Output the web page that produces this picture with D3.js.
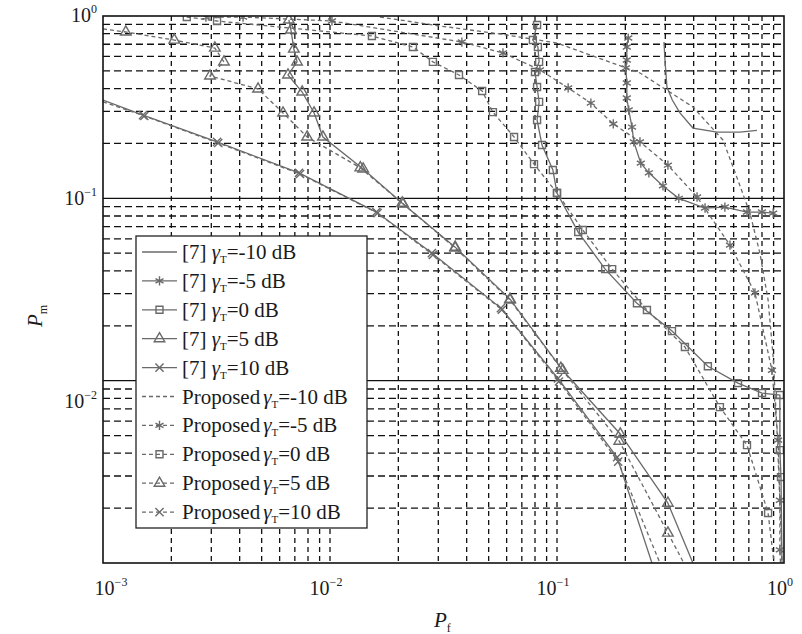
<!doctype html>
<meta charset="utf-8">
<style>
body { margin: 0; background: #fff; }
svg text { font-family: "Liberation Serif", "DejaVu Serif", serif; fill: #1a1a1a; }
</style>
<script src="https://d3js.org/d3.v7.min.js"></script>
<body>
<svg id="chart" width="802" height="634"></svg>
<script>
// ---- data (Pf, Pm) ----
var pfRefM10 = [0.296, 0.299, 0.305, 0.322, 0.348, 0.397, 0.507, 0.640, 0.760];
var pmRefM10 = [0.720, 0.574, 0.408, 0.346, 0.294, 0.243, 0.231, 0.231, 0.236];

var pfRefM5 = [0.206, 0.203, 0.203, 0.201, 0.203, 0.203, 0.207, 0.214, 0.218, 0.234, 0.254, 0.293, 0.344, 0.449, 0.549, 0.687, 0.800, 0.896];
var pmRefM5 = [0.757, 0.676, 0.574, 0.519, 0.429, 0.355, 0.305, 0.246, 0.204, 0.156, 0.138, 0.117, 0.100, 0.0885, 0.0896, 0.0841, 0.0841, 0.083];

var pfRef0 = [0.0817, 0.0783, 0.0824, 0.0834, 0.0800, 0.0817, 0.0834, 0.0817, 0.0859, 0.0959, 0.100, 0.124, 0.163, 0.225, 0.321, 0.462, 0.627, 0.800, 0.959, 0.959, 0.970, 0.980];
var pmRef0 = [0.893, 0.738, 0.676, 0.560, 0.493, 0.408, 0.338, 0.269, 0.196, 0.143, 0.107, 0.0653, 0.0409, 0.0266, 0.0187, 0.0120, 0.0097, 0.00855, 0.00834, 0.00416, 0.00296, 0.001];

var pfRef5 = [0.00659, 0.00673, 0.00693, 0.00716, 0.00653, 0.00754, 0.00851, 0.00931, 0.0140, 0.0210, 0.0356, 0.0621, 0.106, 0.190, 0.308, 0.397];
var pmRef5 = [0.951, 0.838, 0.659, 0.560, 0.475, 0.383, 0.294, 0.217, 0.145, 0.093, 0.054, 0.0280, 0.0114, 0.0051, 0.00213, 0.001];

var pfRef10 = [0.001, 0.00150, 0.00318, 0.00730, 0.0160, 0.0281, 0.0566, 0.101, 0.184, 0.262];
var pmRef10 = [0.346, 0.286, 0.204, 0.138, 0.0841, 0.0501, 0.0250, 0.0103, 0.0038, 0.001];

var pfPropM10 = [0.0166, 0.0306, 0.0561, 0.100, 0.232, 0.397, 0.538, 0.596, 0.708, 0.783, 0.851, 0.896, 0.931, 0.959, 0.980];
var pmPropM10 = [0.987, 0.881, 0.797, 0.711, 0.487, 0.317, 0.209, 0.149, 0.083, 0.0501, 0.0277, 0.0135, 0.00536, 0.00221, 0.001];

var pfPropM5 = [0.00284, 0.00414, 0.0102, 0.0381, 0.0578, 0.0841, 0.112, 0.141, 0.177, 0.232, 0.308, 0.414, 0.578, 0.745, 0.885, 0.942, 0.959, 0.959, 0.965];
var pmPropM5 = [0.987, 0.987, 0.939, 0.720, 0.627, 0.506, 0.403, 0.333, 0.256, 0.204, 0.152, 0.1017, 0.0554, 0.0303, 0.0114, 0.00472, 0.00221, 0.00118, 0.001];

var pfProp0 = [0.00234, 0.00318, 0.0153, 0.0232, 0.0284, 0.0370, 0.0468, 0.0522, 0.0647, 0.0792, 0.100, 0.130, 0.175, 0.249, 0.366, 0.522, 0.687, 0.851, 0.904];
var pmProp0 = [0.987, 0.939, 0.777, 0.676, 0.560, 0.475, 0.388, 0.297, 0.217, 0.154, 0.107, 0.067, 0.0409, 0.0244, 0.0153, 0.00716, 0.00443, 0.00188, 0.001];

var pfProp5 = [0.001, 0.00126, 0.00206, 0.00311, 0.00341, 0.00296, 0.00482, 0.00621, 0.00793, 0.0136, 0.0208, 0.0356, 0.0621, 0.104, 0.188, 0.308, 0.362];
var pmProp5 = [0.849, 0.817, 0.738, 0.667, 0.560, 0.469, 0.398, 0.294, 0.217, 0.147, 0.0942, 0.0534, 0.0277, 0.0117, 0.00466, 0.00146, 0.001];

var pfProp10 = [0.001, 0.00152, 0.00322, 0.00738, 0.0162, 0.0284, 0.0572, 0.102, 0.186, 0.284];
var pmProp10 = [0.338, 0.283, 0.201, 0.136, 0.083, 0.0490, 0.0245, 0.0099, 0.0036, 0.001];

var gammaLabels = ["-10", "-5", "0", "5", "10"];
var xTickValues = [1e-3, 1e-2, 1e-1, 1];
var yTickValues = [1, 1e-1, 1e-2];

// ---- layout ----
var svg = d3.select("#chart"),
    pLeft = 103, pRight = 784, pTop = 16, pBottom = 563;

var x = d3.scaleLog().domain([1e-3, 1]).range([pLeft, pRight]);
var y = d3.scaleLog().domain([1e-3, 1]).range([pBottom, pTop]);

var lineColor = "#6a6a6a";
var markerTypes = [null, "star", "square", "triangle", "cross"];

var series = [];
var refPf = [pfRefM10, pfRefM5, pfRef0, pfRef5, pfRef10],
    refPm = [pmRefM10, pmRefM5, pmRef0, pmRef5, pmRef10],
    propPf = [pfPropM10, pfPropM5, pfProp0, pfProp5, pfProp10],
    propPm = [pmPropM10, pmPropM5, pmProp0, pmProp5, pmProp10];
gammaLabels.forEach(function(g, i) {
  series.push({ prefix: "[7] ", gamma: g, dashed: false, marker: markerTypes[i],
    pts: refPf[i].map(function(v, j) { return [v, refPm[i][j]]; }) });
});
gammaLabels.forEach(function(g, i) {
  series.push({ prefix: "Proposed", gamma: g, dashed: true, marker: markerTypes[i],
    pts: propPf[i].map(function(v, j) { return [v, propPm[i][j]]; }) });
});

// ---- grid ----
var grid = svg.append("g").attr("class", "grid");
var gridVals = [];
[1e-3, 1e-2, 1e-1].forEach(function(d) {
  for (var k = 1; k <= 9; k++) gridVals.push({ v: k * d, major: k === 1 });
});
gridVals = gridVals.filter(function(g) { return g.v > 1.0001e-3; });

grid.selectAll(".vg").data(gridVals).enter().append("line")
  .attr("x1", function(d) { return x(d.v); }).attr("x2", function(d) { return x(d.v); })
  .attr("y1", pTop).attr("y2", pBottom)
  .attr("stroke", "#111").attr("stroke-width", 1.3)
  .attr("stroke-dasharray", "5,4");

grid.selectAll(".hg").data(gridVals).enter().append("line")
  .attr("y1", function(d) { return y(d.v); }).attr("y2", function(d) { return y(d.v); })
  .attr("x1", pLeft).attr("x2", pRight)
  .attr("stroke", "#111").attr("stroke-width", function(d) { return d.major ? 1.2 : 1.3; })
  .attr("stroke-dasharray", function(d) { return d.major ? null : "7,4"; });

// ---- curves ----
svg.append("clipPath").attr("id", "plotclip")
  .append("rect").attr("x", pLeft).attr("y", pTop).attr("width", pRight - pLeft).attr("height", pBottom - pTop);

var plot = svg.append("g").attr("clip-path", "url(#plotclip)");
var line = d3.line().x(function(d) { return x(d[0]); }).y(function(d) { return y(d[1]); });

function symbolFor(name) {
  if (name === "star") return d3.symbolAsterisk;
  if (name === "square") return d3.symbolSquare2;
  if (name === "triangle") return d3.symbolTriangle2;
  if (name === "cross") return d3.symbolTimes;
  return null;
}
var symbolSize = { star: 60, square: 62, triangle: 80, cross: 45 };

function drawMarker(g, name, cx, cy) {
  var t = symbolFor(name);
  if (!t) return;
  g.append("path")
    .attr("d", d3.symbol().type(t).size(symbolSize[name])())
    .attr("transform", "translate(" + cx + "," + cy + ")")
    .attr("fill", "none").attr("stroke", lineColor).attr("stroke-width", 1.4);
}

series.forEach(function(s) {
  plot.append("path").datum(s.pts)
    .attr("d", line)
    .attr("fill", "none")
    .attr("stroke", lineColor)
    .attr("stroke-width", 1.3)
    .attr("stroke-dasharray", s.dashed ? "4,3" : null);
  if (s.marker) {
    s.pts.forEach(function(p) {
      if (p[0] <= 1e-3 || p[1] <= 1e-3) return;
      drawMarker(plot, s.marker, x(p[0]), y(p[1]));
    });
  }
});

// ---- legend ----
var lg = svg.append("g").attr("class", "legend");
var lgX = 136, lgY = 236, lgW = 231, lgH = 292, rowH = 28.9;
lg.append("rect").attr("x", lgX).attr("y", lgY).attr("width", lgW).attr("height", lgH)
  .attr("fill", "#fff").attr("stroke", "#222").attr("stroke-width", 1.3);

series.forEach(function(s, i) {
  var cy = lgY + 16 + i * rowH;
  lg.append("line").attr("x1", 142).attr("x2", 177).attr("y1", cy).attr("y2", cy)
    .attr("stroke", lineColor).attr("stroke-width", 1.3)
    .attr("stroke-dasharray", s.dashed ? "4,3" : null);
  drawMarker(lg, s.marker, 159.5, cy);
  var t = lg.append("text").attr("x", 182).attr("y", cy + 7).attr("font-size", 21);
  t.append("tspan").text(s.prefix);
  t.append("tspan").attr("font-style", "italic").attr("dx", s.prefix === "Proposed" ? 3 : 0).text("\u03b3");
  t.append("tspan").attr("font-size", 11).attr("dy", 4).text("T");
  t.append("tspan").attr("dy", -4).text("=" + s.gamma + " dB");
});

// ---- axes box ----
svg.append("rect").attr("x", pLeft).attr("y", pTop).attr("width", pRight - pLeft).attr("height", pBottom - pTop)
  .attr("fill", "none").attr("stroke", "#111").attr("stroke-width", 1.6);

// ---- tick labels ----
function exponent(v) { return Math.round(Math.log10(v)); }
function supText(v) { return exponent(v) === 0 ? "0" : "\u2212" + (-exponent(v)); }

svg.selectAll(".xt").data(xTickValues).enter().append("text")
  .attr("x", function(d) { return exponent(d) === -3 ? x(d) + 8 : x(d) - 4; })
  .attr("y", 595)
  .attr("text-anchor", "middle")
  .attr("font-size", 20)
  .each(function(d) {
    var t = d3.select(this);
    t.append("tspan").text("10");
    t.append("tspan").attr("font-size", 12).attr("dy", -9).text(supText(d));
  });

var yLabelShift = { "0": 6, "-1": 7, "-2": 27 };
svg.selectAll(".yt").data(yTickValues).enter().append("text")
  .attr("x", 97)
  .attr("y", function(d) { return y(d) + yLabelShift[exponent(d)]; })
  .attr("text-anchor", "end")
  .attr("font-size", 20)
  .each(function(d) {
    var t = d3.select(this);
    t.append("tspan").text("10");
    t.append("tspan").attr("font-size", 12).attr("dy", -9).text(supText(d));
  });

// ---- axis titles ----
var xt = svg.append("text").attr("x", 434).attr("y", 627).attr("font-size", 21);
xt.append("tspan").attr("font-style", "italic").text("P");
xt.append("tspan").attr("font-size", 12).attr("dy", 5).text("f");

var yt = svg.append("text").attr("transform", "translate(42,316) rotate(-90)")
  .attr("text-anchor", "middle").attr("font-size", 21);
yt.append("tspan").attr("font-style", "italic").text("P");
yt.append("tspan").attr("font-size", 12).attr("dy", 5).text("m");
</script>
</body>
